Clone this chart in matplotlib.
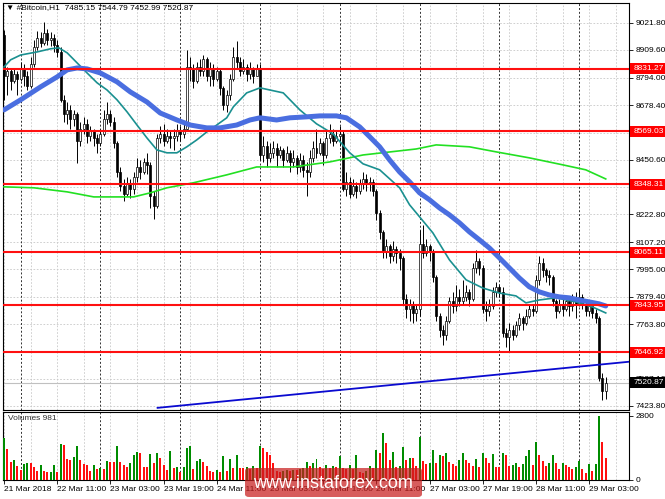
import numpy as np
import matplotlib.pyplot as plt
import matplotlib.transforms as mtransforms
from matplotlib.patches import FancyBboxPatch, Rectangle

plt.rcParams['font.family'] = ['Liberation Sans', 'DejaVu Sans']

# Bitcoin H1 bars, first bar 21 Mar 19:00, last bar 29 Mar 08:00
first_open = 8970
closes = [8800, 8820, 8780, 8810, 8790, 8830, 8800, 8760, 8850, 8920,
          8960, 8940, 8980, 8950, 8960, 8930, 8900, 8700, 8640, 8660,
          8620, 8640, 8530, 8580, 8600, 8550, 8570, 8540, 8520, 8560,
          8620, 8640, 8610, 8520, 8400, 8340, 8310, 8350, 8330, 8380,
          8420, 8400, 8440, 8430, 8300, 8260, 8540, 8560, 8530, 8550,
          8540, 8550, 8570, 8560, 8580, 8840, 8830, 8780, 8840, 8820,
          8870, 8800, 8830, 8790, 8820, 8750, 8680, 8720, 8790, 8880,
          8860, 8820, 8840, 8810, 8830, 8800, 8830, 8470, 8510, 8460,
          8480, 8500, 8470, 8490, 8450, 8480, 8440, 8460, 8420, 8450,
          8410, 8400, 8460, 8500, 8480, 8520, 8470, 8540, 8560, 8530,
          8550, 8560, 8330, 8360, 8310, 8340, 8320, 8350, 8370, 8350,
          8360, 8320, 8230, 8150, 8070, 8090, 8050, 8080, 8060, 8040,
          7870, 7830, 7850, 7810, 7830, 8100, 8060, 8090, 8070, 7960,
          7800, 7740, 7720, 7780, 7860, 7840, 7880, 7860, 7880, 7900,
          7870, 8000, 8030, 8000, 7830, 7820, 7840, 7900, 7920, 7900,
          7730, 7710, 7740, 7720, 7760, 7790, 7770, 7800, 7830, 7820,
          7950, 8020, 7990, 7970, 7960, 7860, 7820, 7850, 7830, 7860,
          7840, 7870, 7850, 7880, 7850, 7820, 7840, 7810, 7790, 7540,
          7485.15, 7520.87]
highs = [8993, 8840, 8830, 8830, 8820, 8860, 8850, 8820, 8880, 8950,
         8990, 8985, 9025, 8995, 8985, 8975, 8950, 8920, 8720, 8690,
         8680, 8660, 8650, 8610, 8630, 8620, 8590, 8580, 8560, 8580,
         8660, 8690, 8660, 8630, 8530, 8420, 8370, 8380, 8370, 8400,
         8460, 8450, 8460, 8480, 8440, 8320, 8560, 8590, 8600, 8580,
         8570, 8580, 8600, 8590, 8610, 8910, 8880, 8850, 8860, 8870,
         8890, 8880, 8860, 8850, 8840, 8830, 8760, 8740, 8810, 8920,
         8945, 8880, 8870, 8850, 8860, 8840, 8850, 8850, 8550, 8530,
         8520, 8530, 8520, 8510, 8500, 8510, 8490, 8490, 8470, 8480,
         8470, 8440, 8490, 8530, 8580, 8540, 8530, 8570, 8600, 8580,
         8570, 8590, 8570, 8400, 8380, 8370, 8360, 8370, 8400, 8390,
         8380, 8370, 8330, 8240, 8160, 8120, 8100, 8110, 8090, 8080,
         8050, 7890, 7870, 7860, 7850, 8160, 8180, 8120, 8100, 8080,
         7970, 7810, 7760, 7800, 7880, 7900, 7930, 7910, 7950, 7930,
         7910, 8020, 8075, 8040, 8010, 7860, 7870, 7920, 7940, 7930,
         7920, 7750, 7770, 7760, 7780, 7810, 7800, 7830, 7850, 7850,
         7970, 8050, 8040, 8000, 7990, 7970, 7870, 7870, 7870, 7880,
         7870, 7890, 7900, 7910, 7890, 7870, 7860, 7850, 7830, 7800,
         7560, 7544.79]
lows = [8700, 8720, 8740, 8770, 8720, 8780, 8760, 8740, 8750, 8840,
        8910, 8920, 8930, 8930, 8925, 8900, 8880, 8690, 8610, 8600,
        8580, 8590, 8437, 8510, 8560, 8520, 8530, 8510, 8480, 8510,
        8550, 8600, 8590, 8500, 8380, 8320, 8280, 8300, 8290, 8310,
        8360, 8370, 8390, 8390, 8250, 8205, 8250, 8520, 8510, 8520,
        8500, 8490, 8530, 8530, 8540, 8570, 8780, 8750, 8770, 8800,
        8800, 8780, 8760, 8760, 8780, 8720, 8660, 8650, 8700, 8780,
        8830, 8800, 8810, 8780, 8790, 8770, 8800, 8450, 8440, 8420,
        8440, 8460, 8420, 8460, 8420, 8440, 8400, 8420, 8390, 8400,
        8380, 8300, 8380, 8440, 8460, 8470, 8430, 8460, 8520, 8510,
        8520, 8510, 8320, 8300, 8290, 8300, 8290, 8310, 8330, 8320,
        8320, 8300, 8200, 8120, 8040, 8040, 8020, 8030, 8020, 7990,
        7850, 7790, 7780, 7770, 7780, 7800, 8040, 8050, 8030, 7940,
        7780, 7710, 7680, 7700, 7770, 7810, 7820, 7840, 7850, 7860,
        7840, 7860, 7980, 7970, 7810, 7780, 7800, 7830, 7880, 7880,
        7710, 7670, 7650, 7700, 7710, 7740, 7740, 7760, 7790, 7800,
        7810, 7930, 7960, 7940, 7930, 7840, 7790, 7810, 7800, 7820,
        7800, 7820, 7790, 7840, 7830, 7800, 7800, 7790, 7770, 7530,
        7450, 7452.99]
volumes = [1840, 1360, 790, 875, 610, 440, 700, 760, 750, 570,
           400, 660, 400, 350, 370, 660, 330, 1575, 1530, 920,
           890, 1000, 1490, 890, 700, 660, 400, 660, 480, 520,
           480, 830, 790, 780, 1490, 790, 660, 570, 740, 1090,
           1240, 1200, 570, 560, 1150, 740, 1180, 960, 660, 440,
           1270, 520, 570, 350, 570, 1400, 1490, 480, 830, 900,
           790, 610, 400, 330, 440, 330, 1050, 400, 920, 520,
           1090, 520, 520, 560, 480, 600, 520, 1490, 1400, 1240,
           1090, 740, 400, 350, 400, 440, 400, 420, 420, 480,
           520, 800, 610, 740, 900, 570, 480, 660, 520, 600,
           560, 1050, 520, 480, 660, 480, 1090, 350, 300, 400,
           600, 520, 1310, 1180, 2050, 1620, 890, 1240, 570, 600,
           1450, 890, 960, 960, 610, 1880, 830, 700, 740, 1310,
           740, 1090, 1050, 1200, 790, 700, 610, 870, 1200, 870,
           740, 610, 900, 570, 1200, 960, 740, 1150, 570, 560,
           1180, 1090, 610, 660, 740, 570, 700, 1050, 1330, 660,
           1660, 1090, 830, 610, 760, 1090, 740, 480, 740, 660,
           570, 480, 570, 830, 480, 300, 700, 400, 700, 2800,
           1660, 981]

# moving averages (bar index, price)
ma_blue_idx = [0, 5, 11, 16, 19, 22, 25, 29, 34, 38, 43, 47, 52, 56, 61, 65, 70,
               74, 77, 82, 86, 91, 95, 100, 103, 107, 110, 113, 116, 119, 122,
               125, 128, 131, 134, 137, 140, 143, 146, 149, 152, 155, 158, 161,
               164, 167, 170, 173, 176, 179, 181]
ma_blue = [8659, 8701, 8755, 8797, 8826, 8834, 8830, 8813, 8776, 8734, 8692,
           8646, 8617, 8596, 8584, 8584, 8596, 8617, 8626, 8617, 8626, 8630,
           8634, 8634, 8626, 8588, 8547, 8505, 8450, 8400, 8359, 8313, 8284,
           8250, 8221, 8188, 8150, 8117, 8083, 8042, 8000, 7958, 7921, 7900,
           7887, 7879, 7875, 7866, 7858, 7850, 7841]
ma_teal_idx = [0, 2, 5, 10, 14, 16.5, 19, 22, 25, 28, 31, 34, 37, 40, 43, 46, 49,
               52, 55, 58, 61, 64, 67, 69, 73, 77, 80, 84, 89, 94, 99, 104, 108,
               113, 119, 122, 125, 129, 134, 139, 144, 149, 154, 157, 161, 166,
               172, 177, 181]
ma_teal = [8838, 8868, 8888, 8901, 8914, 8918, 8897, 8855, 8813, 8772, 8742,
           8701, 8651, 8596, 8542, 8492, 8480, 8480, 8505, 8534, 8567, 8596,
           8626, 8672, 8730, 8751, 8742, 8730, 8659, 8601, 8559, 8480, 8434,
           8409, 8334, 8263, 8213, 8146, 8033, 7950, 7916, 7895, 7883, 7854,
           7866, 7875, 7858, 7837, 7812]
ma_green_idx = [0, 9, 19, 27, 39, 44, 49, 57, 67, 76, 87, 98, 108, 124, 130,
                140, 148, 158, 168, 175, 181]
ma_green = [8338, 8334, 8317, 8296, 8296, 8313, 8334, 8355, 8388, 8421, 8421,
            8442, 8471, 8496, 8513, 8505, 8484, 8459, 8430, 8409, 8371]

trend_idx = [46.2, 188.5]
trend_price = [7416, 7609]

levels = [8831.27, 8569.03, 8348.31, 8065.11, 7843.95, 7646.92]
last_price = 7520.87

price_ticks = [9021.80, 8909.60, 8794.00, 8678.40, 8564.50, 8450.60, 8336.70,
               8222.80, 8107.20, 7995.00, 7879.40, 7763.80, 7650.40, 7537.10,
               7423.80]
date_idx = [0, 16, 32, 48, 64, 80, 96, 112, 128, 144, 160, 176]
date_labels = ['21 Mar 2018', '22 Mar 11:00', '23 Mar 03:00', '23 Mar 19:00',
               '24 Mar 11:00', '25 Mar 03:00', '25 Mar 19:00', '26 Mar 11:00',
               '27 Mar 03:00', '27 Mar 19:00', '28 Mar 11:00', '29 Mar 03:00']

W, H = 665, 499
fig = plt.figure(figsize=(W / 100, H / 100), dpi=100)


def px_axes(x0, y0, x1, y1):
    return fig.add_axes([x0 / W, 1 - y1 / H, (x1 - x0) / W, (y1 - y0) / H])


ax = px_axes(3, 3, 629, 410)
axv = px_axes(3, 412, 629, 480)

c = np.array(closes, dtype=float)
o = np.concatenate([[first_open], c[:-1]])
hi = np.array(highs, dtype=float)
lo = np.array(lows, dtype=float)
idx = np.arange(len(c))
xmax = 188
ylo, yhi = 7407, 9105
per_px = (yhi - ylo) / 407.0

# grid + day separators
for a in (ax, axv):
    for k in range(0, xmax + 1, 8):
        a.axvline(k, color='#c8c8c8', lw=0.6, ls=(0, (2, 2)), zorder=0)
    for k in range(5, len(c), 24):
        a.axvline(k, color='#303030', lw=0.7, ls=(0, (2, 2)), zorder=1)
for t in price_ticks:
    ax.axhline(t, color='#c8c8c8', lw=0.6, ls=(0, (2, 2)), zorder=0)

# candles
up = c >= o
ax.vlines(idx, lo, hi, color='black', lw=0.7, zorder=3)
body = np.maximum(np.abs(c - o), 3)
ax.bar(idx, body, bottom=np.minimum(o, c), width=0.6,
       color=np.where(up, 'white', 'black'), edgecolor='black', lw=0.5, zorder=4)

# indicators
ax.plot(ma_green_idx, ma_green, color='#22e022', lw=1.2, zorder=5)
ax.plot(ma_teal_idx, ma_teal, color='#1a9090', lw=1.2, zorder=5)
ax.plot(ma_blue_idx, ma_blue, color='#4a6ee0', lw=3.6, zorder=5,
        solid_capstyle='round')
ax.plot(trend_idx, trend_price, color='#0a0ad0', lw=1.3, zorder=5)

ax.axhline(last_price, color='#c0c0c0', lw=0.8, zorder=2)
for lv in levels:
    ax.axhline(lv, color='#ff1010', lw=1.5, zorder=6)

ax.set_xlim(-0.3, xmax)
ax.set_ylim(ylo, yhi)
ax.set_xticks([])
ax.yaxis.tick_right()
ax.set_yticks(price_ticks)
ax.set_yticklabels([f'{t:.2f}' for t in price_ticks])
ax.tick_params(axis='y', labelsize=6, length=3, pad=2, width=0.6)

# price labels on the right axis
trans = mtransforms.blended_transform_factory(ax.transAxes, ax.transData)
box_w = 35 / 626


def price_label(value, face):
    ax.add_patch(Rectangle((1.002, value - 5.5 * per_px), box_w, 11 * per_px,
                           transform=trans, fc=face, ec='none', zorder=9,
                           clip_on=False))
    ax.text(1.007, value, f'{value:.2f}', transform=trans, fontsize=6,
            color='white', va='center', ha='left', zorder=10, clip_on=False)


for lv in levels:
    price_label(lv, '#ff0000')
price_label(last_price, 'black')

# volumes
vol = np.array(volumes, dtype=float)
rising = np.concatenate([[True], vol[1:] > vol[:-1]])
axv.bar(idx, vol, width=0.6, color=np.where(rising, '#008c00', '#ff1010'),
        zorder=3)
axv.set_xlim(-0.3, xmax)
axv.set_ylim(0, 2975)
axv.yaxis.tick_right()
axv.set_yticks([0, 2800])
axv.set_yticklabels(['0', '2800'])
axv.tick_params(axis='y', labelsize=6, length=3, pad=2, width=0.6)
axv.set_xticks(date_idx)
axv.set_xticklabels(date_labels, ha='left')
axv.tick_params(axis='x', labelsize=6, length=3, pad=1.5, width=0.6)
axv.text(0.008, 0.9, 'Volumes 981', transform=axv.transAxes, fontsize=6,
         color='#303030', va='center', ha='left')

for a in (ax, axv):
    for s in a.spines.values():
        s.set_color('black')
        s.set_linewidth(0.8)

fig.text(6 / W, 1 - 8 / H, '\u25bc #Bitcoin,H1  7485.15 7544.79 7452.99 7520.87',
         fontsize=6, va='center', ha='left')

# watermark
fig.add_artist(FancyBboxPatch((245 / W, 1 - 497 / H), 177 / W, 29 / H,
                              boxstyle='round,pad=0,rounding_size=0.006',
                              transform=fig.transFigure, fc='#c81e1e',
                              ec='none', alpha=0.72, zorder=20))
fig.text(333 / W, 1 - 483 / H, 'www.instaforex.com', color='white', fontsize=13,
         ha='center', va='center', zorder=21)

fig.savefig('out.png', dpi=100)
